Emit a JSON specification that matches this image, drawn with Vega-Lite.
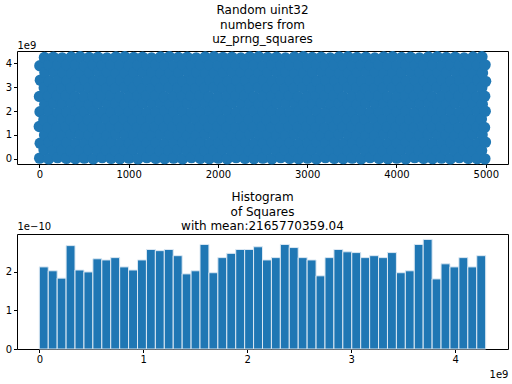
{
"$schema":"https://vega.github.io/schema/vega-lite/v6.json",
"padding":{"left":4,"right":3,"top":3,"bottom":0},
"spacing":10,
"config":{
 "font":"DejaVu Sans",
 "view":{"stroke":"black","strokeWidth":1},
 "axis":{"grid":false,"domain":false,"ticks":true,"tickColor":"black","tickSize":3.5,"tickWidth":1,"labelColor":"black","labelFontSize":10,"labelPadding":2,"labelFlush":false,"labelOverlap":false,"titleFontSize":10,"titleFontWeight":"normal","titleColor":"black","titleAngle":0,"titlePadding":0},
 "title":{"fontSize":12,"fontWeight":"normal","color":"black","lineHeight":14.5,"anchor":"middle"}
},
"datasets":{
"scatter":[
{"i":4,"v":0.03},{"i":10,"v":0.65},{"i":0,"v":1.35},{"i":8,"v":1.97},{"i":2,"v":2.61},{"i":12,"v":3.29},{"i":6,"v":3.89},{"i":53,"v":0.38},{"i":59,"v":1},{"i":51,"v":1.63},{"i":61,"v":2.27},{"i":55,"v":2.97},{"i":63,"v":3.61},{"i":57,"v":4.24},
{"i":104,"v":0},{"i":110,"v":0.7},{"i":100,"v":1.31},{"i":108,"v":1.99},{"i":102,"v":2.62},{"i":112,"v":3.24},{"i":106,"v":3.93},{"i":153,"v":0.34},{"i":159,"v":0.97},{"i":151,"v":1.65},{"i":161,"v":2.33},{"i":155,"v":2.93},{"i":163,"v":3.62},{"i":157,"v":4.25},
{"i":204,"v":0.05},{"i":210,"v":0.67},{"i":200,"v":1.3},{"i":208,"v":1.94},{"i":202,"v":2.64},{"i":212,"v":3.28},{"i":206,"v":3.91},{"i":253,"v":0.36},{"i":259,"v":0.98},{"i":251,"v":1.68},{"i":261,"v":2.3},{"i":255,"v":2.94},{"i":263,"v":3.62},{"i":257,"v":4.22},
{"i":304,"v":0.02},{"i":310,"v":0.68},{"i":300,"v":1.34},{"i":308,"v":1.95},{"i":302,"v":2.65},{"i":312,"v":3.26},{"i":306,"v":3.94},{"i":353,"v":0.33},{"i":359,"v":1.03},{"i":351,"v":1.64},{"i":361,"v":2.32},{"i":355,"v":2.95},{"i":363,"v":3.57},{"i":357,"v":4.26},
{"i":404,"v":0.01},{"i":410,"v":0.64},{"i":400,"v":1.32},{"i":408,"v":2},{"i":402,"v":2.6},{"i":412,"v":3.29},{"i":406,"v":3.92},{"i":453,"v":0.35},{"i":459,"v":1.01},{"i":451,"v":1.67},{"i":461,"v":2.28},{"i":455,"v":2.98},{"i":463,"v":3.59},{"i":457,"v":4.27},
{"i":504,"v":0.03},{"i":510,"v":0.65},{"i":500,"v":1.35},{"i":508,"v":1.97},{"i":502,"v":2.61},{"i":512,"v":3.29},{"i":506,"v":3.89},{"i":553,"v":0.38},{"i":559,"v":1},{"i":551,"v":1.63},{"i":561,"v":2.27},{"i":555,"v":2.97},{"i":563,"v":3.61},{"i":557,"v":4.24},
{"i":604,"v":0},{"i":610,"v":0.7},{"i":600,"v":1.31},{"i":608,"v":1.99},{"i":602,"v":2.62},{"i":612,"v":3.24},{"i":606,"v":3.93},{"i":653,"v":0.34},{"i":659,"v":0.97},{"i":651,"v":1.65},{"i":661,"v":2.33},{"i":655,"v":2.93},{"i":663,"v":3.62},{"i":657,"v":4.25},
{"i":704,"v":0.05},{"i":710,"v":0.67},{"i":700,"v":1.3},{"i":708,"v":1.94},{"i":702,"v":2.64},{"i":712,"v":3.28},{"i":706,"v":3.91},{"i":753,"v":0.36},{"i":759,"v":0.98},{"i":751,"v":1.68},{"i":761,"v":2.3},{"i":755,"v":2.94},{"i":763,"v":3.62},{"i":757,"v":4.22},
{"i":804,"v":0.02},{"i":810,"v":0.68},{"i":800,"v":1.34},{"i":808,"v":1.95},{"i":802,"v":2.65},{"i":812,"v":3.26},{"i":806,"v":3.94},{"i":853,"v":0.33},{"i":859,"v":1.03},{"i":851,"v":1.64},{"i":861,"v":2.32},{"i":855,"v":2.95},{"i":863,"v":3.57},{"i":857,"v":4.26},
{"i":904,"v":0.01},{"i":910,"v":0.64},{"i":900,"v":1.32},{"i":908,"v":2},{"i":902,"v":2.6},{"i":912,"v":3.29},{"i":906,"v":3.92},{"i":953,"v":0.35},{"i":959,"v":1.01},{"i":951,"v":1.67},{"i":961,"v":2.28},{"i":955,"v":2.98},{"i":963,"v":3.59},{"i":957,"v":4.27},
{"i":1004,"v":0.03},{"i":1010,"v":0.65},{"i":1000,"v":1.35},{"i":1008,"v":1.97},{"i":1002,"v":2.61},{"i":1012,"v":3.29},{"i":1006,"v":3.89},{"i":1053,"v":0.38},{"i":1059,"v":1},{"i":1051,"v":1.63},{"i":1061,"v":2.27},{"i":1055,"v":2.97},{"i":1063,"v":3.61},{"i":1057,"v":4.24},
{"i":1104,"v":0},{"i":1110,"v":0.7},{"i":1100,"v":1.31},{"i":1108,"v":1.99},{"i":1102,"v":2.62},{"i":1112,"v":3.24},{"i":1106,"v":3.93},{"i":1153,"v":0.34},{"i":1159,"v":0.97},{"i":1151,"v":1.65},{"i":1161,"v":2.33},{"i":1155,"v":2.93},{"i":1163,"v":3.62},{"i":1157,"v":4.25},
{"i":1204,"v":0.05},{"i":1210,"v":0.67},{"i":1200,"v":1.3},{"i":1208,"v":1.94},{"i":1202,"v":2.64},{"i":1212,"v":3.28},{"i":1206,"v":3.91},{"i":1253,"v":0.36},{"i":1259,"v":0.98},{"i":1251,"v":1.68},{"i":1261,"v":2.3},{"i":1255,"v":2.94},{"i":1263,"v":3.62},{"i":1257,"v":4.22},
{"i":1304,"v":0.02},{"i":1310,"v":0.68},{"i":1300,"v":1.34},{"i":1308,"v":1.95},{"i":1302,"v":2.65},{"i":1312,"v":3.26},{"i":1306,"v":3.94},{"i":1353,"v":0.33},{"i":1359,"v":1.03},{"i":1351,"v":1.64},{"i":1361,"v":2.32},{"i":1355,"v":2.95},{"i":1363,"v":3.57},{"i":1357,"v":4.26},
{"i":1404,"v":0.01},{"i":1410,"v":0.64},{"i":1400,"v":1.32},{"i":1408,"v":2},{"i":1402,"v":2.6},{"i":1412,"v":3.29},{"i":1406,"v":3.92},{"i":1453,"v":0.35},{"i":1459,"v":1.01},{"i":1451,"v":1.67},{"i":1461,"v":2.28},{"i":1455,"v":2.98},{"i":1463,"v":3.59},{"i":1457,"v":4.27},
{"i":1504,"v":0.03},{"i":1510,"v":0.65},{"i":1500,"v":1.35},{"i":1508,"v":1.97},{"i":1502,"v":2.61},{"i":1512,"v":3.29},{"i":1506,"v":3.89},{"i":1553,"v":0.38},{"i":1559,"v":1},{"i":1551,"v":1.63},{"i":1561,"v":2.27},{"i":1555,"v":2.97},{"i":1563,"v":3.61},{"i":1557,"v":4.24},
{"i":1604,"v":0},{"i":1610,"v":0.7},{"i":1600,"v":1.31},{"i":1608,"v":1.99},{"i":1602,"v":2.62},{"i":1612,"v":3.24},{"i":1606,"v":3.93},{"i":1653,"v":0.34},{"i":1659,"v":0.97},{"i":1651,"v":1.65},{"i":1661,"v":2.33},{"i":1655,"v":2.93},{"i":1663,"v":3.62},{"i":1657,"v":4.25},
{"i":1704,"v":0.05},{"i":1710,"v":0.67},{"i":1700,"v":1.3},{"i":1708,"v":1.94},{"i":1702,"v":2.64},{"i":1712,"v":3.28},{"i":1706,"v":3.91},{"i":1753,"v":0.36},{"i":1759,"v":0.98},{"i":1751,"v":1.68},{"i":1761,"v":2.3},{"i":1755,"v":2.94},{"i":1763,"v":3.62},{"i":1757,"v":4.22},
{"i":1804,"v":0.02},{"i":1810,"v":0.68},{"i":1800,"v":1.34},{"i":1808,"v":1.95},{"i":1802,"v":2.65},{"i":1812,"v":3.26},{"i":1806,"v":3.94},{"i":1853,"v":0.33},{"i":1859,"v":1.03},{"i":1851,"v":1.64},{"i":1861,"v":2.32},{"i":1855,"v":2.95},{"i":1863,"v":3.57},{"i":1857,"v":4.26},
{"i":1904,"v":0.01},{"i":1910,"v":0.64},{"i":1900,"v":1.32},{"i":1908,"v":2},{"i":1902,"v":2.6},{"i":1912,"v":3.29},{"i":1906,"v":3.92},{"i":1953,"v":0.35},{"i":1959,"v":1.01},{"i":1951,"v":1.67},{"i":1961,"v":2.28},{"i":1955,"v":2.98},{"i":1963,"v":3.59},{"i":1957,"v":4.27},
{"i":2004,"v":0.03},{"i":2010,"v":0.65},{"i":2000,"v":1.35},{"i":2008,"v":1.97},{"i":2002,"v":2.61},{"i":2012,"v":3.29},{"i":2006,"v":3.89},{"i":2053,"v":0.38},{"i":2059,"v":1},{"i":2051,"v":1.63},{"i":2061,"v":2.27},{"i":2055,"v":2.97},{"i":2063,"v":3.61},{"i":2057,"v":4.24},
{"i":2104,"v":0},{"i":2110,"v":0.7},{"i":2100,"v":1.31},{"i":2108,"v":1.99},{"i":2102,"v":2.62},{"i":2112,"v":3.24},{"i":2106,"v":3.93},{"i":2153,"v":0.34},{"i":2159,"v":0.97},{"i":2151,"v":1.65},{"i":2161,"v":2.33},{"i":2155,"v":2.93},{"i":2163,"v":3.62},{"i":2157,"v":4.25},
{"i":2204,"v":0.05},{"i":2210,"v":0.67},{"i":2200,"v":1.3},{"i":2208,"v":1.94},{"i":2202,"v":2.64},{"i":2212,"v":3.28},{"i":2206,"v":3.91},{"i":2253,"v":0.36},{"i":2259,"v":0.98},{"i":2251,"v":1.68},{"i":2261,"v":2.3},{"i":2255,"v":2.94},{"i":2263,"v":3.62},{"i":2257,"v":4.22},
{"i":2304,"v":0.02},{"i":2310,"v":0.68},{"i":2300,"v":1.34},{"i":2308,"v":1.95},{"i":2302,"v":2.65},{"i":2312,"v":3.26},{"i":2306,"v":3.94},{"i":2353,"v":0.33},{"i":2359,"v":1.03},{"i":2351,"v":1.64},{"i":2361,"v":2.32},{"i":2355,"v":2.95},{"i":2363,"v":3.57},{"i":2357,"v":4.26},
{"i":2404,"v":0.01},{"i":2410,"v":0.64},{"i":2400,"v":1.32},{"i":2408,"v":2},{"i":2402,"v":2.6},{"i":2412,"v":3.29},{"i":2406,"v":3.92},{"i":2453,"v":0.35},{"i":2459,"v":1.01},{"i":2451,"v":1.67},{"i":2461,"v":2.28},{"i":2455,"v":2.98},{"i":2463,"v":3.59},{"i":2457,"v":4.27},
{"i":2504,"v":0.03},{"i":2510,"v":0.65},{"i":2500,"v":1.35},{"i":2508,"v":1.97},{"i":2502,"v":2.61},{"i":2512,"v":3.29},{"i":2506,"v":3.89},{"i":2553,"v":0.38},{"i":2559,"v":1},{"i":2551,"v":1.63},{"i":2561,"v":2.27},{"i":2555,"v":2.97},{"i":2563,"v":3.61},{"i":2557,"v":4.24},
{"i":2604,"v":0},{"i":2610,"v":0.7},{"i":2600,"v":1.31},{"i":2608,"v":1.99},{"i":2602,"v":2.62},{"i":2612,"v":3.24},{"i":2606,"v":3.93},{"i":2653,"v":0.34},{"i":2659,"v":0.97},{"i":2651,"v":1.65},{"i":2661,"v":2.33},{"i":2655,"v":2.93},{"i":2663,"v":3.62},{"i":2657,"v":4.25},
{"i":2704,"v":0.05},{"i":2710,"v":0.67},{"i":2700,"v":1.3},{"i":2708,"v":1.94},{"i":2702,"v":2.64},{"i":2712,"v":3.28},{"i":2706,"v":3.91},{"i":2753,"v":0.36},{"i":2759,"v":0.98},{"i":2751,"v":1.68},{"i":2761,"v":2.3},{"i":2755,"v":2.94},{"i":2763,"v":3.62},{"i":2757,"v":4.22},
{"i":2804,"v":0.02},{"i":2810,"v":0.68},{"i":2800,"v":1.34},{"i":2808,"v":1.95},{"i":2802,"v":2.65},{"i":2812,"v":3.26},{"i":2806,"v":3.94},{"i":2853,"v":0.33},{"i":2859,"v":1.03},{"i":2851,"v":1.64},{"i":2861,"v":2.32},{"i":2855,"v":2.95},{"i":2863,"v":3.57},{"i":2857,"v":4.26},
{"i":2904,"v":0.01},{"i":2910,"v":0.64},{"i":2900,"v":1.32},{"i":2908,"v":2},{"i":2902,"v":2.6},{"i":2912,"v":3.29},{"i":2906,"v":3.92},{"i":2953,"v":0.35},{"i":2959,"v":1.01},{"i":2951,"v":1.67},{"i":2961,"v":2.28},{"i":2955,"v":2.98},{"i":2963,"v":3.59},{"i":2957,"v":4.27},
{"i":3004,"v":0.03},{"i":3010,"v":0.65},{"i":3000,"v":1.35},{"i":3008,"v":1.97},{"i":3002,"v":2.61},{"i":3012,"v":3.29},{"i":3006,"v":3.89},{"i":3053,"v":0.38},{"i":3059,"v":1},{"i":3051,"v":1.63},{"i":3061,"v":2.27},{"i":3055,"v":2.97},{"i":3063,"v":3.61},{"i":3057,"v":4.24},
{"i":3104,"v":0},{"i":3110,"v":0.7},{"i":3100,"v":1.31},{"i":3108,"v":1.99},{"i":3102,"v":2.62},{"i":3112,"v":3.24},{"i":3106,"v":3.93},{"i":3153,"v":0.34},{"i":3159,"v":0.97},{"i":3151,"v":1.65},{"i":3161,"v":2.33},{"i":3155,"v":2.93},{"i":3163,"v":3.62},{"i":3157,"v":4.25},
{"i":3204,"v":0.05},{"i":3210,"v":0.67},{"i":3200,"v":1.3},{"i":3208,"v":1.94},{"i":3202,"v":2.64},{"i":3212,"v":3.28},{"i":3206,"v":3.91},{"i":3253,"v":0.36},{"i":3259,"v":0.98},{"i":3251,"v":1.68},{"i":3261,"v":2.3},{"i":3255,"v":2.94},{"i":3263,"v":3.62},{"i":3257,"v":4.22},
{"i":3304,"v":0.02},{"i":3310,"v":0.68},{"i":3300,"v":1.34},{"i":3308,"v":1.95},{"i":3302,"v":2.65},{"i":3312,"v":3.26},{"i":3306,"v":3.94},{"i":3353,"v":0.33},{"i":3359,"v":1.03},{"i":3351,"v":1.64},{"i":3361,"v":2.32},{"i":3355,"v":2.95},{"i":3363,"v":3.57},{"i":3357,"v":4.26},
{"i":3404,"v":0.01},{"i":3410,"v":0.64},{"i":3400,"v":1.32},{"i":3408,"v":2},{"i":3402,"v":2.6},{"i":3412,"v":3.29},{"i":3406,"v":3.92},{"i":3453,"v":0.35},{"i":3459,"v":1.01},{"i":3451,"v":1.67},{"i":3461,"v":2.28},{"i":3455,"v":2.98},{"i":3463,"v":3.59},{"i":3457,"v":4.27},
{"i":3504,"v":0.03},{"i":3510,"v":0.65},{"i":3500,"v":1.35},{"i":3508,"v":1.97},{"i":3502,"v":2.61},{"i":3512,"v":3.29},{"i":3506,"v":3.89},{"i":3553,"v":0.38},{"i":3559,"v":1},{"i":3551,"v":1.63},{"i":3561,"v":2.27},{"i":3555,"v":2.97},{"i":3563,"v":3.61},{"i":3557,"v":4.24},
{"i":3604,"v":0},{"i":3610,"v":0.7},{"i":3600,"v":1.31},{"i":3608,"v":1.99},{"i":3602,"v":2.62},{"i":3612,"v":3.24},{"i":3606,"v":3.93},{"i":3653,"v":0.34},{"i":3659,"v":0.97},{"i":3651,"v":1.65},{"i":3661,"v":2.33},{"i":3655,"v":2.93},{"i":3663,"v":3.62},{"i":3657,"v":4.25},
{"i":3704,"v":0.05},{"i":3710,"v":0.67},{"i":3700,"v":1.3},{"i":3708,"v":1.94},{"i":3702,"v":2.64},{"i":3712,"v":3.28},{"i":3706,"v":3.91},{"i":3753,"v":0.36},{"i":3759,"v":0.98},{"i":3751,"v":1.68},{"i":3761,"v":2.3},{"i":3755,"v":2.94},{"i":3763,"v":3.62},{"i":3757,"v":4.22},
{"i":3804,"v":0.02},{"i":3810,"v":0.68},{"i":3800,"v":1.34},{"i":3808,"v":1.95},{"i":3802,"v":2.65},{"i":3812,"v":3.26},{"i":3806,"v":3.94},{"i":3853,"v":0.33},{"i":3859,"v":1.03},{"i":3851,"v":1.64},{"i":3861,"v":2.32},{"i":3855,"v":2.95},{"i":3863,"v":3.57},{"i":3857,"v":4.26},
{"i":3904,"v":0.01},{"i":3910,"v":0.64},{"i":3900,"v":1.32},{"i":3908,"v":2},{"i":3902,"v":2.6},{"i":3912,"v":3.29},{"i":3906,"v":3.92},{"i":3953,"v":0.35},{"i":3959,"v":1.01},{"i":3951,"v":1.67},{"i":3961,"v":2.28},{"i":3955,"v":2.98},{"i":3963,"v":3.59},{"i":3957,"v":4.27},
{"i":4004,"v":0.03},{"i":4010,"v":0.65},{"i":4000,"v":1.35},{"i":4008,"v":1.97},{"i":4002,"v":2.61},{"i":4012,"v":3.29},{"i":4006,"v":3.89},{"i":4053,"v":0.38},{"i":4059,"v":1},{"i":4051,"v":1.63},{"i":4061,"v":2.27},{"i":4055,"v":2.97},{"i":4063,"v":3.61},{"i":4057,"v":4.24},
{"i":4104,"v":0},{"i":4110,"v":0.7},{"i":4100,"v":1.31},{"i":4108,"v":1.99},{"i":4102,"v":2.62},{"i":4112,"v":3.24},{"i":4106,"v":3.93},{"i":4153,"v":0.34},{"i":4159,"v":0.97},{"i":4151,"v":1.65},{"i":4161,"v":2.33},{"i":4155,"v":2.93},{"i":4163,"v":3.62},{"i":4157,"v":4.25},
{"i":4204,"v":0.05},{"i":4210,"v":0.67},{"i":4200,"v":1.3},{"i":4208,"v":1.94},{"i":4202,"v":2.64},{"i":4212,"v":3.28},{"i":4206,"v":3.91},{"i":4253,"v":0.36},{"i":4259,"v":0.98},{"i":4251,"v":1.68},{"i":4261,"v":2.3},{"i":4255,"v":2.94},{"i":4263,"v":3.62},{"i":4257,"v":4.22},
{"i":4304,"v":0.02},{"i":4310,"v":0.68},{"i":4300,"v":1.34},{"i":4308,"v":1.95},{"i":4302,"v":2.65},{"i":4312,"v":3.26},{"i":4306,"v":3.94},{"i":4353,"v":0.33},{"i":4359,"v":1.03},{"i":4351,"v":1.64},{"i":4361,"v":2.32},{"i":4355,"v":2.95},{"i":4363,"v":3.57},{"i":4357,"v":4.26},
{"i":4404,"v":0.01},{"i":4410,"v":0.64},{"i":4400,"v":1.32},{"i":4408,"v":2},{"i":4402,"v":2.6},{"i":4412,"v":3.29},{"i":4406,"v":3.92},{"i":4453,"v":0.35},{"i":4459,"v":1.01},{"i":4451,"v":1.67},{"i":4461,"v":2.28},{"i":4455,"v":2.98},{"i":4463,"v":3.59},{"i":4457,"v":4.27},
{"i":4504,"v":0.03},{"i":4510,"v":0.65},{"i":4500,"v":1.35},{"i":4508,"v":1.97},{"i":4502,"v":2.61},{"i":4512,"v":3.29},{"i":4506,"v":3.89},{"i":4553,"v":0.38},{"i":4559,"v":1},{"i":4551,"v":1.63},{"i":4561,"v":2.27},{"i":4555,"v":2.97},{"i":4563,"v":3.61},{"i":4557,"v":4.24},
{"i":4604,"v":0},{"i":4610,"v":0.7},{"i":4600,"v":1.31},{"i":4608,"v":1.99},{"i":4602,"v":2.62},{"i":4612,"v":3.24},{"i":4606,"v":3.93},{"i":4653,"v":0.34},{"i":4659,"v":0.97},{"i":4651,"v":1.65},{"i":4661,"v":2.33},{"i":4655,"v":2.93},{"i":4663,"v":3.62},{"i":4657,"v":4.25},
{"i":4704,"v":0.05},{"i":4710,"v":0.67},{"i":4700,"v":1.3},{"i":4708,"v":1.94},{"i":4702,"v":2.64},{"i":4712,"v":3.28},{"i":4706,"v":3.91},{"i":4753,"v":0.36},{"i":4759,"v":0.98},{"i":4751,"v":1.68},{"i":4761,"v":2.3},{"i":4755,"v":2.94},{"i":4763,"v":3.62},{"i":4757,"v":4.22},
{"i":4804,"v":0.02},{"i":4810,"v":0.68},{"i":4800,"v":1.34},{"i":4808,"v":1.95},{"i":4802,"v":2.65},{"i":4812,"v":3.26},{"i":4806,"v":3.94},{"i":4853,"v":0.33},{"i":4859,"v":1.03},{"i":4851,"v":1.64},{"i":4861,"v":2.32},{"i":4855,"v":2.95},{"i":4863,"v":3.57},{"i":4857,"v":4.26},
{"i":4904,"v":0.01},{"i":4910,"v":0.64},{"i":4900,"v":1.32},{"i":4908,"v":2},{"i":4902,"v":2.6},{"i":4912,"v":3.29},{"i":4906,"v":3.92},{"i":4953,"v":0.35},{"i":4959,"v":1.01},{"i":4951,"v":1.67},{"i":4961,"v":2.28},{"i":4955,"v":2.98},{"i":4963,"v":3.59},{"i":4957,"v":4.27},
{"i":4990,"v":0},{"i":4996,"v":0.7},{"i":4986,"v":1.31},{"i":4994,"v":1.99},{"i":4988,"v":2.62},{"i":4998,"v":3.24},{"i":4992,"v":3.93}
],
"hist":[
{"start":0,"end":0.0859,"d":2.12e-10},{"start":0.0859,"end":0.1718,"d":2.02e-10},{"start":0.1718,"end":0.2576,"d":1.83e-10},{"start":0.2576,"end":0.3435,"d":2.67e-10},{"start":0.3435,"end":0.4294,"d":2.04e-10},
{"start":0.4294,"end":0.5153,"d":1.99e-10},{"start":0.5153,"end":0.6012,"d":2.33e-10},{"start":0.6012,"end":0.687,"d":2.30e-10},{"start":0.687,"end":0.7729,"d":2.36e-10},{"start":0.7729,"end":0.8588,"d":2.12e-10},
{"start":0.8588,"end":0.9447,"d":2.04e-10},{"start":0.9447,"end":1.0306,"d":2.30e-10},{"start":1.0306,"end":1.1164,"d":2.57e-10},{"start":1.1164,"end":1.2023,"d":2.54e-10},{"start":1.2023,"end":1.2882,"d":2.57e-10},
{"start":1.2882,"end":1.3741,"d":2.41e-10},{"start":1.3741,"end":1.46,"d":1.94e-10},{"start":1.46,"end":1.5458,"d":2.02e-10},{"start":1.5458,"end":1.6317,"d":2.70e-10},{"start":1.6317,"end":1.7176,"d":1.97e-10},
{"start":1.7176,"end":1.8035,"d":2.36e-10},{"start":1.8035,"end":1.8894,"d":2.47e-10},{"start":1.8894,"end":1.9752,"d":2.57e-10},{"start":1.9752,"end":2.0611,"d":2.57e-10},{"start":2.0611,"end":2.147,"d":2.64e-10},
{"start":2.147,"end":2.2329,"d":2.30e-10},{"start":2.2329,"end":2.3188,"d":2.36e-10},{"start":2.3188,"end":2.4046,"d":2.70e-10},{"start":2.4046,"end":2.4905,"d":2.62e-10},{"start":2.4905,"end":2.5764,"d":2.36e-10},
{"start":2.5764,"end":2.6623,"d":2.30e-10},{"start":2.6623,"end":2.7482,"d":1.89e-10},{"start":2.7482,"end":2.834,"d":2.36e-10},{"start":2.834,"end":2.9199,"d":2.57e-10},{"start":2.9199,"end":3.0058,"d":2.51e-10},
{"start":3.0058,"end":3.0917,"d":2.49e-10},{"start":3.0917,"end":3.1776,"d":2.36e-10},{"start":3.1776,"end":3.2634,"d":2.41e-10},{"start":3.2634,"end":3.3493,"d":2.36e-10},{"start":3.3493,"end":3.4352,"d":2.49e-10},
{"start":3.4352,"end":3.5211,"d":1.97e-10},{"start":3.5211,"end":3.607,"d":2.02e-10},{"start":3.607,"end":3.6928,"d":2.70e-10},{"start":3.6928,"end":3.7787,"d":2.83e-10},{"start":3.7787,"end":3.8646,"d":1.81e-10},
{"start":3.8646,"end":3.9505,"d":2.20e-10},{"start":3.9505,"end":4.0364,"d":2.12e-10},{"start":4.0364,"end":4.1222,"d":2.36e-10},{"start":4.1222,"end":4.2081,"d":2.12e-10},{"start":4.2081,"end":4.294,"d":2.41e-10}
]
},
"vconcat":[
 {"title":{"text":["Random uint32"," numbers from","uz_prng_squares"],"offset":-6},
  "width":491,"height":113,
  "data":{"name":"scatter"},
  "mark":{"type":"circle","size":130,"opacity":1,"color":"#1f77b4"},
  "encoding":{
   "x":{"field":"i","type":"quantitative","scale":{"domain":[-250,5249],"nice":false,"zero":false},"axis":{"title":null,"format":"d","values":[0,1000,2000,3000,4000,5000]}},
   "y":{"field":"v","type":"quantitative","scale":{"domain":[-0.2147,4.5087],"nice":false,"zero":false},"axis":{"title":"1e9","values":[0,1,2,3,4],"titleX":0,"titleY":-3,"titleAlign":"left","titleBaseline":"alphabetic"}}
  }},
 {"title":{"text":["Histogram"," of Squares","with mean:2165770359.04"],"offset":-12},
  "width":491,"height":115,
  "data":{"name":"hist"},
  "mark":{"type":"rect","color":"#1f77b4","stroke":"#dbe8f3","strokeWidth":1},
  "encoding":{
   "x":{"field":"start","type":"quantitative","scale":{"domain":[-0.2147,4.5087],"nice":false,"zero":false},"axis":{"title":"1e9","values":[0,1,2,3,4],"titleX":491,"titleY":28,"titleAlign":"right","titleBaseline":"alphabetic"}},
   "x2":{"field":"end"},
   "y":{"field":"d","type":"quantitative","scale":{"domain":[0,2.97e-10],"nice":false,"zero":true},"axis":{"title":"1e−10","values":[0,1e-10,2e-10],"labelExpr":"format(datum.value*1e10,'d')","titleX":0,"titleY":-5,"titleAlign":"left","titleBaseline":"alphabetic"}},
   "y2":{"datum":0}
  }}
]
}
